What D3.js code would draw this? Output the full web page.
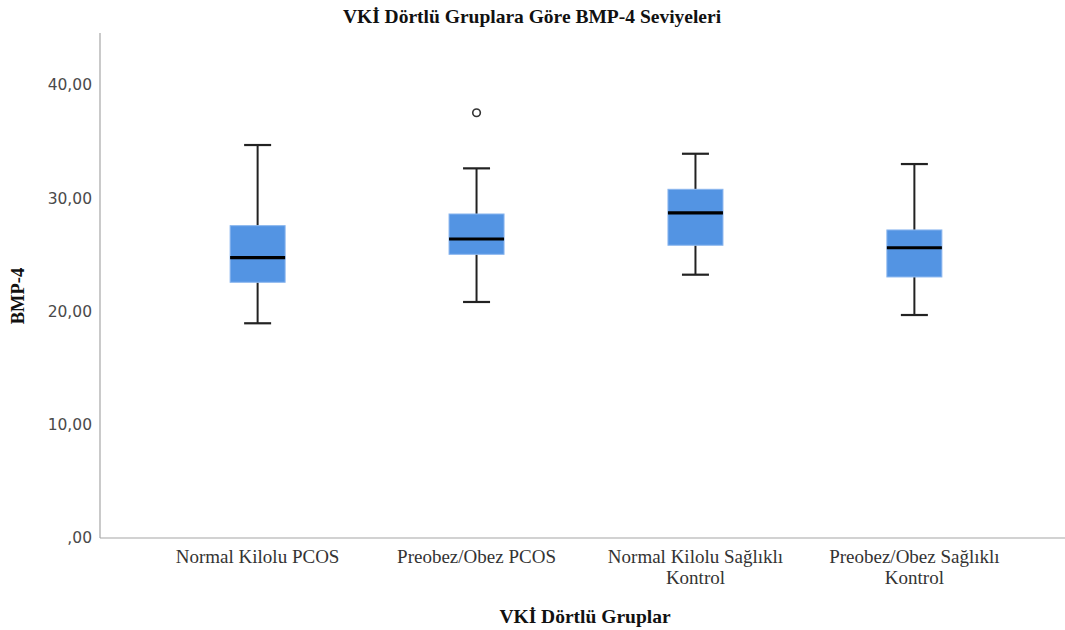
<!DOCTYPE html>
<html>
<head>
<meta charset="utf-8">
<script src="https://cdn.jsdelivr.net/npm/d3@7"></script>
<style>
  html, body { margin: 0; padding: 0; background: #fff; }
  svg { display: block; }
</style>
</head>
<body>
<svg id="chart" width="1065" height="630"></svg>
<script>
// Box plot summaries of BMP-4 per BMI quartile group
const groups = ["Normal Kilolu PCOS", "Preobez/Obez PCOS", "Normal Kilolu Sağlıklı Kontrol", "Preobez/Obez Sağlıklı Kontrol"];
const groupLines = [["Normal Kilolu PCOS"], ["Preobez/Obez PCOS"], ["Normal Kilolu Sağlıklı", "Kontrol"], ["Preobez/Obez Sağlıklı", "Kontrol"]];
const whiskerLow  = [18.96, 20.84, 23.25, 19.69];
const quartile1   = [22.58, 25.05, 25.85, 23.05];
const medians     = [24.75, 26.40, 28.70, 25.63];
const quartile3   = [27.58, 28.61, 30.79, 27.20];
const whiskerHigh = [34.70, 32.64, 33.93, 33.02];
const outliers    = [{ group: "Preobez/Obez PCOS", value: 37.55 }];
const yTicks = [0, 10, 20, 30, 40];

const svg = d3.select("#chart");
const W = 1065, H = 630;
const plot = { left: 100, right: 1072, top: 33, bottom: 538 };
const serif = "'Liberation Serif', 'Times New Roman', serif";

const x = d3.scalePoint()
  .domain(groups)
  .range([plot.left, plot.right])
  .padding(0.72);

const y = d3.scaleLinear()
  .domain([0, 40])
  .range([plot.bottom, 85]);

const boxW = 55, capW = 27;

// Axes frame (left and bottom lines)
svg.append("line")
  .attr("x1", plot.left).attr("x2", plot.left)
  .attr("y1", plot.top).attr("y2", plot.bottom)
  .attr("stroke", "#a6a6a6").attr("stroke-width", 1.2);
svg.append("line")
  .attr("x1", plot.left).attr("x2", W)
  .attr("y1", plot.bottom).attr("y2", plot.bottom)
  .attr("stroke", "#a6a6a6").attr("stroke-width", 1.2);

// Y tick labels
const fmt = v => (v === 0 ? ",00" : d3.format(".2f")(v).replace(".", ","));
const yAxis = d3.axisLeft(y).tickValues(yTicks).tickSize(0).tickPadding(8).tickFormat(fmt);
const gy = svg.append("g").attr("transform", `translate(${plot.left},0)`).call(yAxis);
gy.select(".domain").remove();
gy.selectAll("text")
  .attr("font-family", "'DejaVu Sans', sans-serif")
  .attr("font-size", 15.5)
  .attr("fill", "#4a4a4a");

// X category labels (wrapped)
const gx = svg.append("g");
groups.forEach((g, i) => {
  const t = gx.append("text")
    .attr("x", x(g)).attr("y", plot.bottom + 25)
    .attr("text-anchor", "middle")
    .attr("font-family", serif)
    .attr("font-size", 19)
    .attr("fill", "#333");
  groupLines[i].forEach((line, j) => {
    t.append("tspan").attr("x", x(g)).attr("dy", j === 0 ? 0 : 21).text(line);
  });
});

// Boxes
const boxes = svg.append("g");
groups.forEach((g, i) => {
  const cx = x(g);
  // whisker stems
  boxes.append("line")
    .attr("x1", cx).attr("x2", cx)
    .attr("y1", y(whiskerHigh[i])).attr("y2", y(quartile3[i]))
    .attr("stroke", "#222").attr("stroke-width", 2);
  boxes.append("line")
    .attr("x1", cx).attr("x2", cx)
    .attr("y1", y(quartile1[i])).attr("y2", y(whiskerLow[i]))
    .attr("stroke", "#222").attr("stroke-width", 2);
  // caps
  [whiskerHigh[i], whiskerLow[i]].forEach(v => {
    boxes.append("line")
      .attr("x1", cx - capW / 2).attr("x2", cx + capW / 2)
      .attr("y1", y(v)).attr("y2", y(v))
      .attr("stroke", "#222").attr("stroke-width", 2.2);
  });
  // box
  boxes.append("rect")
    .attr("x", cx - boxW / 2).attr("width", boxW)
    .attr("y", y(quartile3[i])).attr("height", y(quartile1[i]) - y(quartile3[i]))
    .attr("fill", "#5394e3")
    .attr("stroke", "#8ab6ee").attr("stroke-width", 1);
  // median
  boxes.append("line")
    .attr("x1", cx - boxW / 2).attr("x2", cx + boxW / 2)
    .attr("y1", y(medians[i])).attr("y2", y(medians[i]))
    .attr("stroke", "#000").attr("stroke-width", 3.2);
});

// Outliers
svg.append("g").selectAll("circle")
  .data(outliers)
  .join("circle")
  .attr("cx", d => x(d.group))
  .attr("cy", d => y(d.value))
  .attr("r", 3.8)
  .attr("fill", "#fff")
  .attr("stroke", "#333")
  .attr("stroke-width", 1.6);

// Title
svg.append("text")
  .attr("x", 532).attr("y", 23)
  .attr("text-anchor", "middle")
  .attr("font-family", serif)
  .attr("font-weight", "bold")
  .attr("font-size", 19.5)
  .attr("fill", "#111")
  .text("VKİ Dörtlü Gruplara Göre BMP-4 Seviyeleri");

// Axis titles
svg.append("text")
  .attr("x", 585).attr("y", 623)
  .attr("text-anchor", "middle")
  .attr("font-family", serif)
  .attr("font-weight", "bold")
  .attr("font-size", 19.5)
  .attr("fill", "#111")
  .text("VKİ Dörtlü Gruplar");

svg.append("text")
  .attr("transform", `translate(24, 296) rotate(-90)`)
  .attr("text-anchor", "middle")
  .attr("font-family", serif)
  .attr("font-weight", "bold")
  .attr("font-size", 18.5)
  .attr("fill", "#111")
  .text("BMP-4");
</script>
</body>
</html>
